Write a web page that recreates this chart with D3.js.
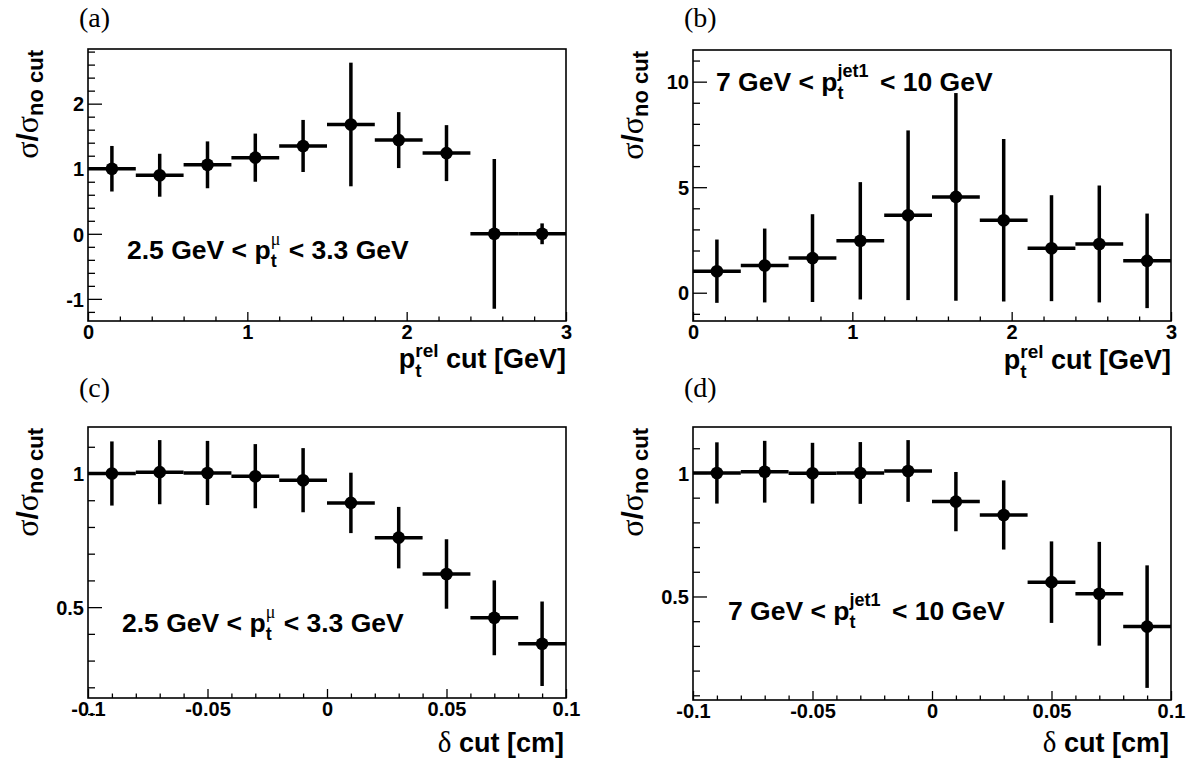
<!DOCTYPE html>
<html><head><meta charset="utf-8">
<script src="https://cdn.jsdelivr.net/npm/d3@7"></script>
<style>
html,body{margin:0;padding:0;background:#fff;}
svg{display:block;}
</style>
</head><body>
<svg id="chart" width="1202" height="764"></svg>
<script>
// ---------------- data ----------------
const ptBinCenters = [0.15, 0.45, 0.75, 1.05, 1.35, 1.65, 1.95, 2.25, 2.55, 2.85];
const ptBinHalfWidth = 0.15;
const deltaBinCenters = [-0.09, -0.07, -0.05, -0.03, -0.01, 0.01, 0.03, 0.05, 0.07, 0.09];
const deltaBinHalfWidth = 0.01;

const valuesA = [1.00, 0.90, 1.06, 1.17, 1.35, 1.68, 1.44, 1.24, 0.00, 0.00];
const errorsA = [0.35, 0.33, 0.36, 0.37, 0.40, 0.95, 0.43, 0.43, 1.15, 0.16];

const valuesB = [1.02, 1.29, 1.64, 2.46, 3.67, 4.54, 3.43, 2.11, 2.31, 1.51];
const errorsB = [1.50, 1.75, 2.08, 2.78, 4.02, 4.92, 3.85, 2.51, 2.77, 2.24];

const valuesC = [1.000, 1.005, 1.002, 0.990, 0.975, 0.890, 0.760, 0.624, 0.460, 0.363];
const errorsC = [0.120, 0.120, 0.120, 0.120, 0.120, 0.113, 0.115, 0.130, 0.140, 0.158];

const valuesD = [1.000, 1.005, 0.999, 1.000, 1.008, 0.884, 0.830, 0.558, 0.511, 0.378];
const errorsD = [0.124, 0.125, 0.123, 0.125, 0.125, 0.120, 0.140, 0.165, 0.210, 0.248];

const ptMajorTicks = [0, 1, 2, 3];
const ptMajorLabels = ["0", "1", "2", "3"];
const ptMinorTicks = [0.2,0.4,0.6,0.8,1.2,1.4,1.6,1.8,2.2,2.4,2.6,2.8];
const deltaMajorTicks = [-0.1, -0.05, 0, 0.05, 0.1];
const deltaMajorLabels = ["-0.1", "-0.05", "0", "0.05", "0.1"];
const deltaMinorTicks = [-0.09,-0.08,-0.07,-0.06,-0.04,-0.03,-0.02,-0.01,0.01,0.02,0.03,0.04,0.06,0.07,0.08,0.09];

const yMajorA = [-1, 0, 1, 2];
const yMajorLabelsA = ["-1", "0", "1", "2"];
const yMinorA = [-1.2,-0.8,-0.6,-0.4,-0.2,0.2,0.4,0.6,0.8,1.2,1.4,1.6,1.8,2.2,2.4,2.6,2.8];
const yMajorB = [0, 5, 10];
const yMajorLabelsB = ["0", "5", "10"];
const yMinorB = [-1,1,2,3,4,6,7,8,9,11];
const yMajorCD = [0.5, 1];
const yMajorLabelsCD = ["0.5", "1"];
const yMinorCD = [0.1,0.2,0.3,0.4,0.6,0.7,0.8,0.9,1.1];

const panelLetters = ["(a)", "(b)", "(c)", "(d)"];

// ---------------- layout ----------------
const SANS = "'Liberation Sans', Arial, Helvetica, sans-serif";
const SERIF = "'Liberation Serif', 'Times New Roman', serif";
const svg = d3.select("#chart");

const panels = [
  {letter: panelLetters[0], letY: 27, L: 88, R: 566, T: 49, B: 321, xdom: [0, 3], ydom: [-1.34, 2.84],
   centers: ptBinCenters, hw: ptBinHalfWidth, vals: valuesA, errs: errorsA,
   xMaj: ptMajorTicks, xLab: ptMajorLabels, xMin: ptMinorTicks,
   yMaj: yMajorA, yLab: yMajorLabelsA, yMin: yMinorA, xtitle: "pt", label: "mu", labX: 127, labY: 259, titleY: 368},
  {letter: panelLetters[1], letY: 27, L: 693, R: 1171, T: 50, B: 321, xdom: [0, 3], ydom: [-1.34, 11.5],
   centers: ptBinCenters, hw: ptBinHalfWidth, vals: valuesB, errs: errorsB,
   xMaj: ptMajorTicks, xLab: ptMajorLabels, xMin: ptMinorTicks,
   yMaj: yMajorB, yLab: yMajorLabelsB, yMin: yMinorB, xtitle: "pt", label: "jet", labX: 716, labY: 91, titleY: 369},
  {letter: panelLetters[2], letY: 397, L: 88, R: 566, T: 427, B: 698, xdom: [-0.1, 0.1], ydom: [0.16, 1.174],
   centers: deltaBinCenters, hw: deltaBinHalfWidth, vals: valuesC, errs: errorsC,
   xMaj: deltaMajorTicks, xLab: deltaMajorLabels, xMin: deltaMinorTicks,
   yMaj: yMajorCD, yLab: yMajorLabelsCD, yMin: yMinorCD, xtitle: "delta", label: "mu", labX: 122, labY: 632, titleY: 752},
  {letter: panelLetters[3], letY: 397, L: 693, R: 1171, T: 427, B: 700, xdom: [-0.1, 0.1], ydom: [0.081, 1.186],
   centers: deltaBinCenters, hw: deltaBinHalfWidth, vals: valuesD, errs: errorsD,
   xMaj: deltaMajorTicks, xLab: deltaMajorLabels, xMin: deltaMinorTicks,
   yMaj: yMajorCD, yLab: yMajorLabelsCD, yMin: yMinorCD, xtitle: "delta", label: "jet", labX: 728, labY: 620, titleY: 752}
];

// rich text helper
function rich(parent, segs, x, y, anchor, rotate) {
  const outer = parent.append("g").attr("transform", `translate(${x},${y})` + (rotate ? ` rotate(${rotate})` : ""));
  const g = outer.append("g");
  let cx = 0;
  segs.forEach(s => {
    if (s.sup !== undefined || s.sub !== undefined) {
      let w = 0;
      if (s.sup) {
        const e = g.append("text").attr("x", cx).attr("y", s.supDy).text(s.sup)
          .style("font-family", s.supFamily || SANS).style("font-weight", s.supWeight || "bold").style("font-size", s.fs + "px");
        w = Math.max(w, e.node().getComputedTextLength());
      }
      if (s.sub) {
        const e = g.append("text").attr("x", cx).attr("y", s.subDy).text(s.sub)
          .style("font-family", SANS).style("font-weight", "bold").style("font-size", s.fs + "px");
        w = Math.max(w, e.node().getComputedTextLength());
      }
      cx += w + (s.gap || 0);
    } else {
      const e = g.append("text").attr("x", cx).attr("y", s.dy || 0).text(s.t)
        .style("font-family", s.family || SANS).style("font-weight", s.weight || "bold")
        .style("font-size", s.fs + "px").style("white-space", "pre").attr("xml:space", "preserve");
      cx += e.node().getComputedTextLength() + (s.gap || 0);
    }
  });
  if (anchor === "end") g.attr("transform", `translate(${-cx},0)`);
  return cx;
}

panels.forEach(p => {
  const x = d3.scaleLinear().domain(p.xdom).range([p.L, p.R]);
  const y = d3.scaleLinear().domain(p.ydom).range([p.B, p.T]);
  const g = svg.append("g");

  // panel letter
  g.append("text").attr("x", p.L - 9).attr("y", p.letY).text(p.letter)
    .style("font-family", SERIF).style("font-size", "28px").style("fill", "#000");

  // minor ticks
  g.append("g").attr("transform", `translate(0,${p.B})`)
    .call(d3.axisBottom(x).tickValues(p.xMin).tickSize(-4.5).tickFormat(""))
    .call(a => a.select(".domain").remove())
    .call(a => a.selectAll("line").attr("stroke", "#000").attr("stroke-width", 1.3));
  g.append("g").attr("transform", `translate(${p.L},0)`)
    .call(d3.axisLeft(y).tickValues(p.yMin).tickSize(-7).tickFormat(""))
    .call(a => a.select(".domain").remove())
    .call(a => a.selectAll("line").attr("stroke", "#000").attr("stroke-width", 1.3));

  // major ticks with labels
  g.append("g").attr("transform", `translate(0,${p.B})`)
    .call(d3.axisBottom(x).tickValues(p.xMaj).tickSize(-9).tickPadding(0)
      .tickFormat((d, i) => p.xLab[i]))
    .call(a => a.select(".domain").remove())
    .call(a => a.selectAll("line").attr("stroke", "#000").attr("stroke-width", 1.3))
    .call(a => a.selectAll("text").attr("y", 18).attr("dy", 0).attr("fill", "#000")
      .style("font-family", SANS).style("font-weight", "bold").style("font-size", "20px"));
  g.append("g").attr("transform", `translate(${p.L},0)`)
    .call(d3.axisLeft(y).tickValues(p.yMaj).tickSize(-14).tickPadding(0)
      .tickFormat((d, i) => p.yLab[i]))
    .call(a => a.select(".domain").remove())
    .call(a => a.selectAll("line").attr("stroke", "#000").attr("stroke-width", 1.3))
    .call(a => a.selectAll("text").attr("x", -4).attr("dy", "0.36em").attr("fill", "#000")
      .style("font-family", SANS).style("font-weight", "bold").style("font-size", "20px"));

  // frame
  g.append("rect").attr("x", p.L).attr("y", p.T).attr("width", p.R - p.L).attr("height", p.B - p.T)
    .attr("fill", "none").attr("stroke", "#000").attr("stroke-width", 1.6);

  // data points with error bars
  const pts = g.append("g");
  p.centers.forEach((c, i) => {
    const v = p.vals[i], e = p.errs[i];
    pts.append("line").attr("x1", x(c - p.hw)).attr("x2", x(c + p.hw)).attr("y1", y(v)).attr("y2", y(v))
      .attr("stroke", "#000").attr("stroke-width", 3.5);
    pts.append("line").attr("x1", x(c)).attr("x2", x(c)).attr("y1", y(v - e)).attr("y2", y(v + e))
      .attr("stroke", "#000").attr("stroke-width", 3.5);
    pts.append("circle").attr("cx", x(c)).attr("cy", y(v)).attr("r", 6.3).attr("fill", "#000");
  });

  // y-axis title
  rich(g, [
    {t: "σ", fs: 32, family: SERIF, weight: "normal"},
    {t: "/", fs: 30},
    {t: "σ", fs: 32, family: SERIF, weight: "normal"},
    {t: "no cut", fs: 22, dy: 5}
  ], p.L - 50, p.T + 1, "end", -90);

  // x-axis title
  if (p.xtitle === "pt") {
    rich(g, [
      {t: "p", fs: 27},
      {sup: "rel", sub: "t", fs: 19, supDy: -11, subDy: 9},
      {t: " cut [GeV]", fs: 27}
    ], p.R, p.titleY, "end");
  } else {
    rich(g, [
      {t: "δ", fs: 29, family: SERIF, weight: "normal"},
      {t: " cut [cm]", fs: 27}
    ], p.R - 2, p.titleY, "end");
  }

  // inner label
  if (p.label === "mu") {
    rich(g, [
      {t: "2.5 GeV < p", fs: 26.5},
      {sup: "μ", sub: "t", fs: 18, supDy: -14, subDy: 8, supFamily: SERIF, supWeight: "normal", gap: 1},
      {t: " < 3.3 GeV", fs: 26.5}
    ], p.labX, p.labY, "start");
  } else {
    rich(g, [
      {t: "7 GeV < p", fs: 26.5},
      {sup: "jet1", sub: "t", fs: 18, supDy: -14, subDy: 8, gap: 4},
      {t: " < 10 GeV", fs: 26.5}
    ], p.labX, p.labY, "start");
  }
});
</script>
</body></html>
